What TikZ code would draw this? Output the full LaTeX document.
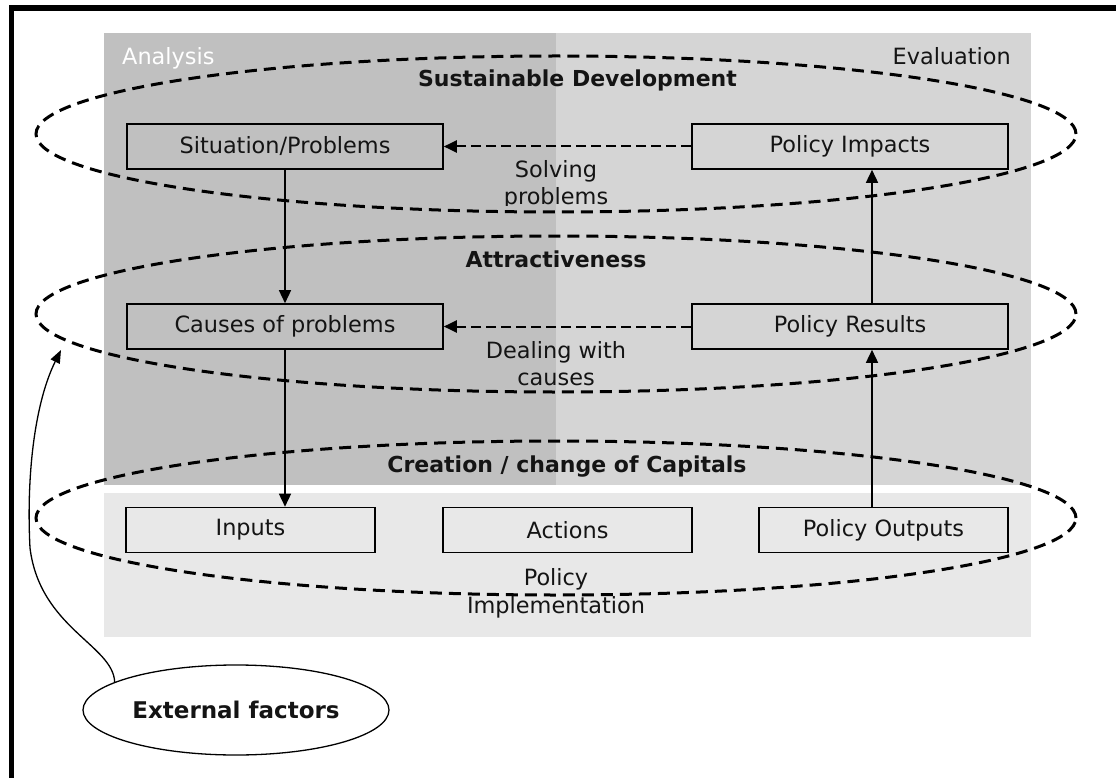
\documentclass[tikz,border=0pt]{standalone}
\usepackage{fontspec}
\setmainfont{DejaVu Sans}
\usetikzlibrary{arrows.meta,shapes.geometric}
\definecolor{gdark}{gray}{0.753}
\definecolor{glight}{gray}{0.835}
\definecolor{gpale}{gray}{0.91}
\definecolor{ink}{gray}{0.08}
\begin{document}
\begin{tikzpicture}[x=1pt,y=-1pt,
  every node/.style={font=\fontsize{22.4}{27}\selectfont, text=ink, inner sep=0pt},
  box/.style={draw=black, line width=1.6pt, minimum height=45pt, inner sep=0pt},
  widebox/.style={box, minimum width=316pt},
  smallbox/.style={box, minimum width=249pt},
  titletext/.style={font=\fontsize{22}{27}\selectfont\bfseries, anchor=base},
  lbl/.style={anchor=base},
  layer/.style={draw=black, line width=3pt, dash pattern=on 12pt off 7pt},
  flow/.style={draw=black, line width=2pt, dash pattern=on 10pt off 5pt, -{Triangle[length=13pt,width=12pt]}},
  link/.style={draw=black, line width=1.5pt, -{Triangle[length=13pt,width=12pt]}}
]
\useasboundingbox (0,0) rectangle (1116,778);
\clip (0,0) rectangle (1116,778);
\fill[white] (0,0) rectangle (1116,778);
% frame
\draw[line width=5.5pt] (11.5,790) -- (11.5,8) -- (1130,8);
% background regions
\fill[gdark] (104,33) rectangle (556,485);
\fill[glight] (556,33) rectangle (1031,485);
\fill[gpale] (104,493) rectangle (1031,637);
% corner labels
\node[lbl, anchor=base west, text=white] (analysis) at (122,65) {Analysis};
\node[lbl, anchor=base east] (evaluation) at (1011,65) {Evaluation};
% boxes
\node[widebox] (sit) at (285,146.5) {Situation/Problems};
\node[widebox] (imp) at (850,146.5) {Policy Impacts};
\node[widebox] (cau) at (285,326.5) {Causes of problems};
\node[widebox] (res) at (850,326.5) {Policy Results};
\node[smallbox] (inp) at (250.5,530) {Inputs};
\node[smallbox] (act) at (567.5,530) {Actions};
\node[smallbox] (out) at (883.5,530) {Policy Outputs};
% titles
\node[titletext] (t1) at (577.5,87) {Sustainable Development};
\node[titletext] (t2) at (556,267) {Attractiveness};
\node[titletext] (t3) at (567,472) {Creation / change of Capitals};
% labels
\node[lbl] (solv1) at (556,178) {Solving};
\begin{scope}
  \clip (420,180) rectangle (720,205.5);
  \node[lbl] (solv2) at (556,205) {problems};
\end{scope}
\node[lbl] (deal1) at (556,358) {Dealing with};
\node[lbl] (deal2) at (556,385) {causes};
\node[lbl] (pol1) at (556,585) {Policy};
\node[lbl] (pol2) at (556,613) {Implementation};
% layer ellipses
\draw[layer] (556,134) ellipse [x radius=520pt, y radius=78pt];
\draw[layer] (556,314) ellipse [x radius=520pt, y radius=78pt];
\draw[layer] (556,518) ellipse [x radius=520pt, y radius=77pt];
% arrows
\draw[flow] (imp.west) -- (sit.east);
\draw[flow] (res.west) -- (cau.east);
\draw[link] (sit.south) -- (cau.north);
\draw[link] (cau.south) -- (cau.south |- inp.north);
\draw[link] ([xshift=-11.5pt]out.north) -- ([xshift=22pt]res.south);
\draw[link] ([xshift=22pt]res.north) -- ([xshift=22pt]imp.south);
% external factors
\node[draw=black, line width=1.3pt, ellipse, minimum width=306pt, minimum height=90pt,
      font=\fontsize{23}{27}\selectfont\bfseries] (ext) at (236,710) {External factors};
\coordinate (exttip) at (61,350);
\draw[draw=black, line width=1.3pt, -{Triangle[length=13pt,width=10pt]}]
  (ext.167.5) .. controls (113,645) and (40,628) .. (30,548)
  .. controls (26,470) and (36,400) .. (exttip);
\end{tikzpicture}
\end{document}
